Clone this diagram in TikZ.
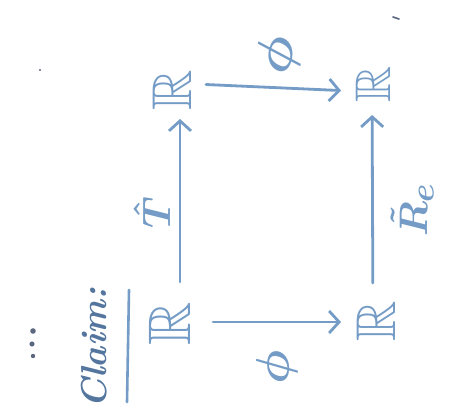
\documentclass[tikz,border=0pt]{standalone}
\usepackage{graphicx}
\usepackage{amssymb}
\usetikzlibrary{arrows.meta,calc}
\definecolor{ink}{RGB}{116,156,198}
\definecolor{inkdark}{RGB}{84,118,158}
\definecolor{pencil}{RGB}{92,104,128}
\newcommand{\bigmath}[2]{\scalebox{#1}{\fontsize{24.88}{30}\selectfont\boldmath$#2$}}
\tikzset{
  obj/.style={inner sep=0pt, text=ink, rotate=90, font=\fontsize{56}{64}\selectfont},
  arr/.style={draw=ink, line width=2.8pt, line cap=round,
    -{Straight Barb[length=10pt,width=22pt,line width=2.8pt]}},
  lbl/.style={inner sep=0pt, text=ink},
}
\begin{document}
\begin{tikzpicture}[x=1pt,y=-1pt]
\fill[white] (0,0) rectangle (450,414);
\useasboundingbox (0,0) rectangle (450,414);

% the four objects of the square
\node[obj, font=\fontsize{60}{68}\selectfont] (bl) at (170,324) {$\mathbb{R}$};
\node[obj] (tl) at (172,90) {$\mathbb{R}$};
\node[obj, font=\fontsize{50}{58}\selectfont] (tr) at (373,84) {$\mathbb{R}$};
\node[obj] (br) at (376,321) {$\mathbb{R}$};

% maps
\draw[arr, shorten <=34pt, shorten >=32pt] ($(tl)+(0,-7)$) -- ($(tr)+(0,8)$);
\draw[arr, shorten <=43pt, shorten >=35pt] ($(bl)+(0,-2)$) -- ($(br)+(0,1)$);
\draw[arr, shorten <=42pt, shorten >=29pt] ($(bl)+(10,0)$) -- ($(tl)+(8,0)$);
\draw[arr, shorten <=38pt, shorten >=31pt] ($(br)+(-3,0)$) -- ($(tr)+(-1,0)$);

% labels of the maps
\node[lbl, rotate=76] (phitop) at (279,55) {\bigmath{2.1}{\phi}};
\node[lbl, rotate=88] (phibot) at (277,367) {\bigmath{1.9}{\phi}};
\node[lbl, rotate=90] (that) at (152,213) {\bigmath{1.6}{\hat{T}}};
\node[lbl, rotate=90] (rtil) at (412,210) {\bigmath{1.6}{\tilde{R}_e}};

% heading
\node[lbl, text=inkdark, rotate=90, font=\fontsize{36}{42}\selectfont\bfseries\itshape] (claim) at (94,348) {Claim:};
\draw[ink, line width=2.6pt, line cap=round] (129,290) -- (127,402);

% dots and stray marks
\fill[pencil] (33,331) circle (2.8);
\fill[pencil] (32,344) circle (2.6);
\fill[pencil] (33,356) circle (2.2);
\fill[pencil] (40,70) circle (1.2);
\draw[pencil, line width=1.6pt, line cap=round] (393,17) -- (399,19);
\end{tikzpicture}
\end{document}
